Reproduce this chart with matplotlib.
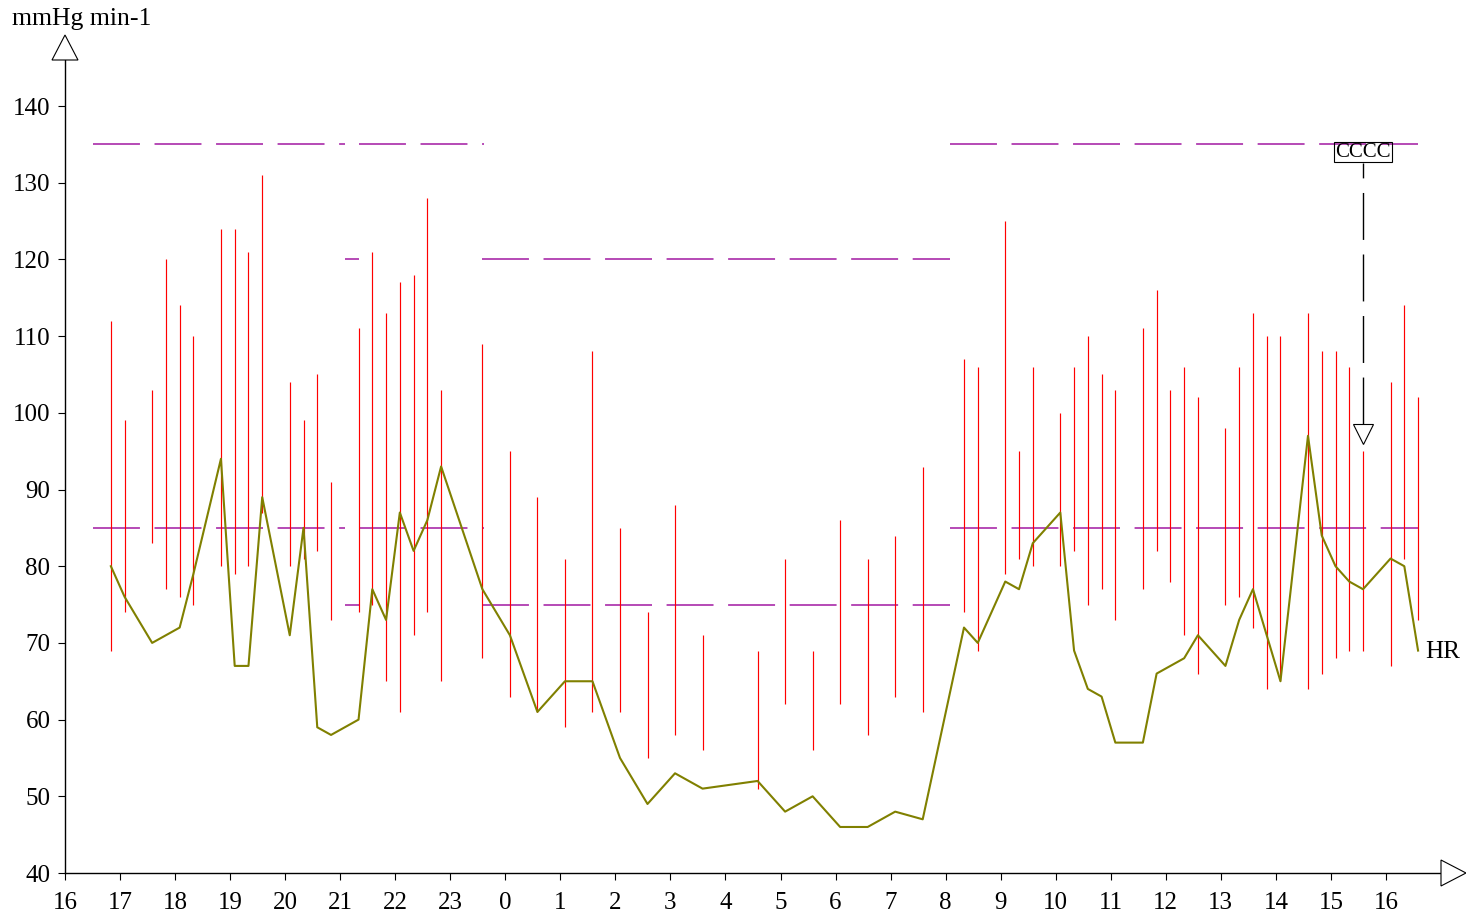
import matplotlib
matplotlib.use("Agg")

import matplotlib.pyplot as plt
from matplotlib.patches import Polygon
from matplotlib.transforms import offset_copy

plt.rcParams["font.family"] = ["Liberation Serif", "DejaVu Serif"]
plt.rcParams["lines.scale_dashes"] = False

# Mediciones (hora, sistolica, diastolica, frecuencia cardiaca)
horas = ["16:50", "17:05", "17:35", "17:50", "18:05", "18:20", "18:50", "19:05",
         "19:20", "19:35", "20:05", "20:20", "20:35", "20:50", "21:20", "21:35",
         "21:50", "22:05", "22:20", "22:35", "22:50", "23:35", "00:05", "00:35",
         "01:05", "01:35", "02:05", "02:35", "03:05", "03:35", "04:35", "05:05",
         "05:35", "06:05", "06:35", "07:05", "07:35", "08:20", "08:35", "09:05",
         "09:20", "09:35", "10:05", "10:20", "10:35", "10:50", "11:05", "11:35",
         "11:50", "12:05", "12:20", "12:35", "13:05", "13:20", "13:35", "13:50",
         "14:05", "14:35", "14:50", "15:05", "15:20", "15:35", "16:05", "16:20",
         "16:35"]
sistolica = [112, 99, 103, 120, 114, 110, 124, 124, 121, 131, 104, 99, 105, 91,
             111, 121, 113, 117, 118, 128, 103, 109, 95, 89, 81, 108, 85, 74, 88,
             71, 69, 81, 69, 86, 81, 84, 93, 107, 106, 125, 95, 106, 100, 106, 110,
             105, 103, 111, 116, 103, 106, 102, 98, 106, 113, 110, 110, 113, 108,
             108, 106, 95, 104, 114, 102]
diastolica = [69, 74, 83, 77, 76, 75, 80, 79, 80, 87, 80, 81, 82, 73, 74, 75, 65,
              61, 71, 74, 65, 68, 63, 61, 59, 61, 61, 55, 58, 56, 51, 62, 56, 62,
              58, 63, 61, 74, 69, 79, 81, 80, 80, 82, 75, 77, 73, 77, 82, 78, 71,
              66, 75, 76, 72, 64, 65, 64, 66, 68, 69, 69, 67, 81, 73]
fc = [80, 76, 70, 71, 72, 79, 94, 67, 67, 89, 71, 85, 59, 58, 60, 77, 73, 87, 82,
      86, 93, 77, 71, 61, 65, 65, 55, 49, 53, 51, 52, 48, 50, 46, 46, 48, 47, 72,
      70, 78, 77, 83, 87, 69, 64, 63, 57, 57, 66, 67, 68, 71, 67, 73, 77, 71, 65,
      97, 84, 80, 78, 77, 81, 80, 69]

# Periodos de limites (dia / noche)
lim_inicio = ["16:30", "21:05", "21:20", "23:35", "08:05"]
lim_fin = ["21:05", "21:20", "23:37", "08:05", "16:35"]
lim_sis = [135, 120, 135, 120, 135]
lim_dia = [85, 75, 85, 75, 85]

evento_hora = "15:35"
evento_texto = "CCCC"

W, H = 1466, 917


def a_horas(lista):
    res = []
    dia = 0
    prev = None
    for s in lista:
        h, m = s.split(":")
        v = int(h) + int(m) / 60
        if prev is not None and v < prev:
            dia += 24
        prev = v
        res.append(v + dia)
    return res


def fig_xy(px, py):
    return (px / W, 1 - py / H)


t = a_horas(horas)
t_ini = a_horas(lim_inicio)
t_fin = [a + ((b - a) % 24) for a, b in zip(t_ini, [x % 24 for x in a_horas(lim_fin)])]

fig = plt.figure(figsize=(W / 100, H / 100), dpi=100)
ax = fig.add_axes([65 / W, (H - 873) / H, (1441 - 65) / W, (873 - 60) / H])
ax.set_xlim(16, 41)
ax.set_ylim(40, 146)

morado = "#b03cb0"
guion = (33.8, 10.5)
for a, b, s, d in zip(t_ini, t_fin, lim_sis, lim_dia):
    ax.plot([a, b], [s, s], color=morado, lw=1.3, dashes=guion)
    ax.plot([a, b], [d, d], color=morado, lw=1.3, dashes=guion)

ax.vlines(t, diastolica, sistolica, colors="red", lw=0.85)
ax.plot(t, fc, color="#808000", lw=1.5)

ax.annotate("HR", xy=(t[-1], fc[-1]), xytext=(5, -1), textcoords="offset points",
            va="center", ha="left", fontsize=18, annotation_clip=False)

# Evento marcado
i = horas.index(evento_hora)
ppu = (873 - 60) / (146 - 40)
ax.plot([t[i], t[i]], [sistolica[i] + 27 / ppu, 132.6], color="black", lw=1.0,
        dashes=guion)
ax.plot([t[i]], [sistolica[i]], marker="v", ms=14.4, mfc="white", mec="black",
        mew=0.8, transform=offset_copy(ax.transData, fig=fig, x=0, y=17, units="dots"))
ax.text(t[i], 134.0, evento_texto, ha="center", va="center", fontsize=15,
        bbox=dict(boxstyle="square,pad=0.04", fc="none", ec="black", lw=0.8))

# Ejes
for lado in ["top", "right"]:
    ax.spines[lado].set_visible(False)
for lado in ["left", "bottom"]:
    ax.spines[lado].set_linewidth(1.0)
    ax.spines[lado].set_color("black")

ax.set_xticks(range(16, 41))
ax.set_xticklabels([str(h % 24) for h in range(16, 41)])
ax.set_yticks(range(40, 141, 10))
ax.tick_params(axis="x", direction="out", length=5, width=0.8, pad=9, labelsize=18)
ax.tick_params(axis="y", direction="out", length=5, width=0.8, pad=5.5, labelsize=18)

fig.add_artist(Polygon([fig_xy(65, 35), fig_xy(52, 60), fig_xy(78, 60)], closed=True,
                       fc="white", ec="black", lw=0.8, transform=fig.transFigure))
fig.add_artist(Polygon([fig_xy(1466, 873), fig_xy(1441, 860), fig_xy(1441, 886)],
                       closed=True, fc="white", ec="black", lw=0.8,
                       transform=fig.transFigure))

fig.text(12 / W, 1 - 19 / H, "mmHg min-1", ha="left", va="center", fontsize=18.5)

fig.savefig("out.png", dpi=100)
